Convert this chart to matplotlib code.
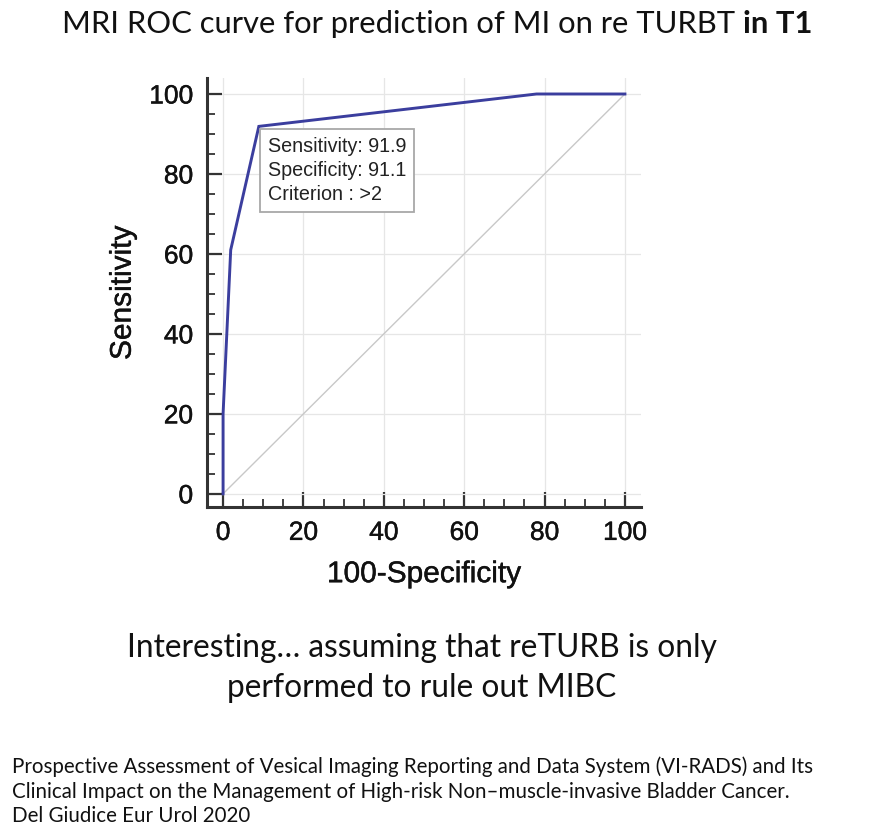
import matplotlib
matplotlib.use("Agg")
import matplotlib.pyplot as plt
import matplotlib.patheffects as pe
from matplotlib.ticker import MultipleLocator

# Data
fpr = [0, 0, 1.9, 8.9, 78.0, 100]
tpr = [0, 20, 61.0, 91.9, 100, 100]
diag_x = [0, 100]
diag_y = [0, 100]
ticks = [0, 20, 40, 60, 80, 100]
box_text = "Sensitivity: 91.9\nSpecificity: 91.1\nCriterion : >2"

W, H = 879, 838
fig = plt.figure(figsize=(W / 100, H / 100), dpi=100)
fig.patch.set_facecolor("white")

x0, x1 = -4.0, 104.0
y0, y1 = -3.3, 104.0
left_px, right_px = 207, 641
bot_px, top_px = 507, 78
ax = fig.add_axes([left_px / W, (H - bot_px) / H, (right_px - left_px) / W, (bot_px - top_px) / H])
ax.set_xlim(x0, x1)
ax.set_ylim(y0, y1)
ax.grid(True, color="#e6e6e6", linewidth=0.9)
ax.set_axisbelow(True)
ax.plot(diag_x, diag_y, color="#c8c8c8", linewidth=1.0)
ax.plot(fpr, tpr, color="#3b3e9e", linewidth=2.1, solid_joinstyle="miter")

for s in ["top", "right"]:
    ax.spines[s].set_visible(False)
for s in ["left", "bottom"]:
    ax.spines[s].set_color("#333333")
    ax.spines[s].set_linewidth(2.2)

stroke = [pe.withStroke(linewidth=0.3, foreground="#111111")]

ax.set_xticks(ticks)
ax.set_yticks(ticks)
ax.xaxis.set_minor_locator(MultipleLocator(5))
ax.yaxis.set_minor_locator(MultipleLocator(5))
ax.tick_params(which="major", direction="in", length=11, width=1.6, color="#333333",
               labelsize=19, pad=10, labelcolor="#111111")
ax.tick_params(which="minor", direction="in", length=6, width=1.3, color="#333333")
for lab in ax.get_xticklabels() + ax.get_yticklabels():
    lab.set_fontfamily("Liberation Sans")
    lab.set_path_effects(stroke)

xl = ax.set_xlabel("100-Specificity", fontsize=21.5, fontfamily="Liberation Sans", labelpad=11,
                   color="#111111")
yl = ax.set_ylabel("Sensitivity", fontsize=21.5, fontfamily="Liberation Sans", labelpad=9,
                   color="#111111")
xl.set_path_effects(stroke)
yl.set_path_effects(stroke)

ax.text(11.2, 89.2, box_text, fontsize=14.2, fontfamily="Liberation Sans", va="top", ha="left",
        linespacing=1.33, color="#222222",
        bbox=dict(boxstyle="square,pad=0.4", facecolor="white", edgecolor="#a8a8a8", linewidth=1.3))

# Title with bold part
t1 = fig.text(62 / W, 1 - 24 / H, "MRI ROC curve for prediction of MI on re TURBT ",
              fontsize=22.3, fontfamily="Lato", va="center", ha="left", color="#111111")
fig.canvas.draw()
ax.annotate("in T1", xy=(1, 0.5), xycoords=t1, va="center", ha="left",
            fontsize=22.3, fontfamily="Lato", fontweight="bold", color="#111111",
            annotation_clip=False)

fig.text(422 / W, 1 - 648 / H, "Interesting\u2026 assuming that reTURB is only",
         fontsize=22.8, fontfamily="Lato", ha="center", va="center", color="#111111")
fig.text(422 / W, 1 - 688 / H, "performed to rule out MIBC",
         fontsize=22.8, fontfamily="Lato", ha="center", va="center", color="#111111")

foot = ["Prospective Assessment of Vesical Imaging Reporting and Data System (VI-RADS) and Its",
        "Clinical Impact on the Management of High-risk Non\u2013muscle-invasive Bladder Cancer.",
        "Del Giudice Eur Urol 2020"]
for i, line in enumerate(foot):
    fig.text(12 / W, 1 - (767 + 24.5 * i) / H, line, fontsize=14.8, fontfamily="Lato",
             ha="left", va="center", color="#111111")

fig.savefig("out.png", dpi=100, facecolor="white")
